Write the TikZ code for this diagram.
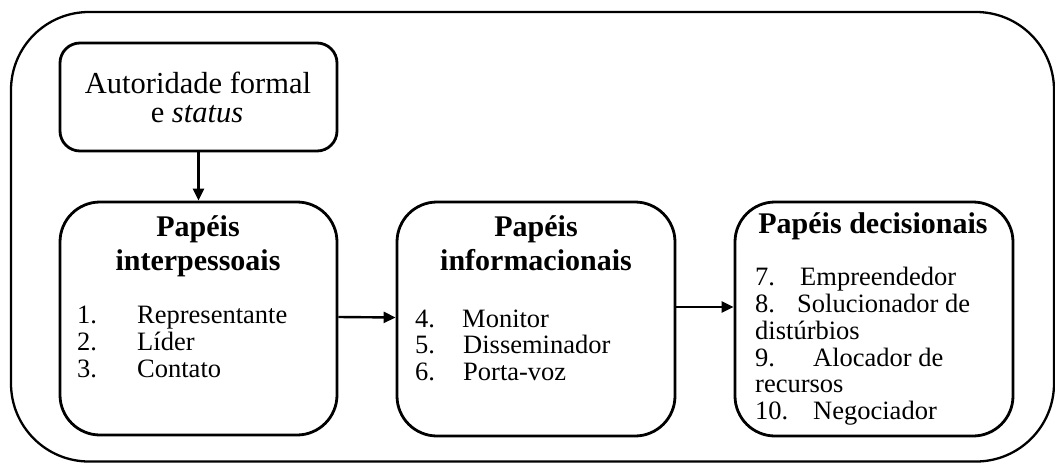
\documentclass[tikz,border=0pt]{standalone}
\usepackage{fontspec}
\setmainfont{Liberation Serif}
\usetikzlibrary{arrows.meta}
\begin{document}
\begin{tikzpicture}[x=1pt,y=-1pt,
  frame/.style={draw, line width=2.3pt, rounded corners=78pt},
  box/.style={draw, line width=2.8pt, rectangle, inner sep=0pt},
  arr/.style={line width=2.4pt, -{Triangle[length=12pt,width=11pt]}},
  ttl/.style={inner sep=0pt, anchor=base, font=\fontsize{30.5}{34}\selectfont},
  hd/.style={inner sep=0pt, anchor=base, font=\fontsize{30}{34}\selectfont\bfseries},
  it/.style={inner sep=0pt, anchor=base west, font=\fontsize{26.5}{30}\selectfont}]
\useasboundingbox (0,0) rectangle (1055,463);
\draw[frame] (11,12) rectangle (1054,461.5);
% boxes
\node[box, rounded corners=20pt, minimum width=277pt, minimum height=108pt] (auth) at (198.5,97) {};
\node[box, rounded corners=40pt, minimum width=277pt, minimum height=233pt] (b1) at (198.5,318.5) {};
\node[box, rounded corners=40pt, minimum width=278pt, minimum height=234pt] (b2) at (536,319) {};
\node[box, rounded corners=40pt, minimum width=278pt, minimum height=234pt] (b3) at (874,319) {};
% connectors
\draw[arr] (auth.south) -- (b1.north);
\draw[arr] ([yshift=1.5pt]b1.east) -- ([yshift=1.5pt]b2.west);
\draw[arr] ([yshift=12pt]b2.east) -- ([yshift=12pt]b3.west);
% top box text
\node[ttl] (a1) at (198,93) {Autoridade formal};
\node[ttl] (a2) at (197,122) {e \textit{status}};
% box 1
\node[hd] (h1a) at (198,236) {Papéis};
\node[hd] (h1b) at (198,270) {interpessoais};
\node[it] (n1) at (77,323) {1.};
\node[it] (t1) at (137,323) {Representante};
\node[it] (n2) at (77,350) {2.};
\node[it] (t2) at (137,350) {Líder};
\node[it] (n3) at (77,377) {3.};
\node[it] (t3) at (137,377) {Contato};
% box 2
\node[hd] (h2a) at (536,236) {Papéis};
\node[hd] (h2b) at (536,270) {informacionais};
\node[it] (n4) at (415,327) {4.};
\node[it] (t4) at (462,327) {Monitor};
\node[it] (n5) at (415,353) {5.};
\node[it] (t5) at (463,353) {Disseminador};
\node[it] (n6) at (415,380) {6.};
\node[it] (t6) at (463,380) {Porta-voz};
% box 3
\node[hd] (h3) at (873,233) {Papéis decisionais};
\node[it] (n7) at (755,285) {7.};
\node[it] (t7) at (800,285) {Empreendedor};
\node[it] (n8) at (755,312) {8.};
\node[it] (t8) at (797,312) {Solucionador de};
\node[it] (t8b) at (755,339) {distúrbios};
\node[it] (n9) at (755,366) {9.};
\node[it] (t9) at (813,366) {Alocador de};
\node[it] (t9b) at (755,392) {recursos};
\node[it] (n10) at (755,419) {10.};
\node[it] (t10) at (813,419) {Negociador};
\end{tikzpicture}
\end{document}
